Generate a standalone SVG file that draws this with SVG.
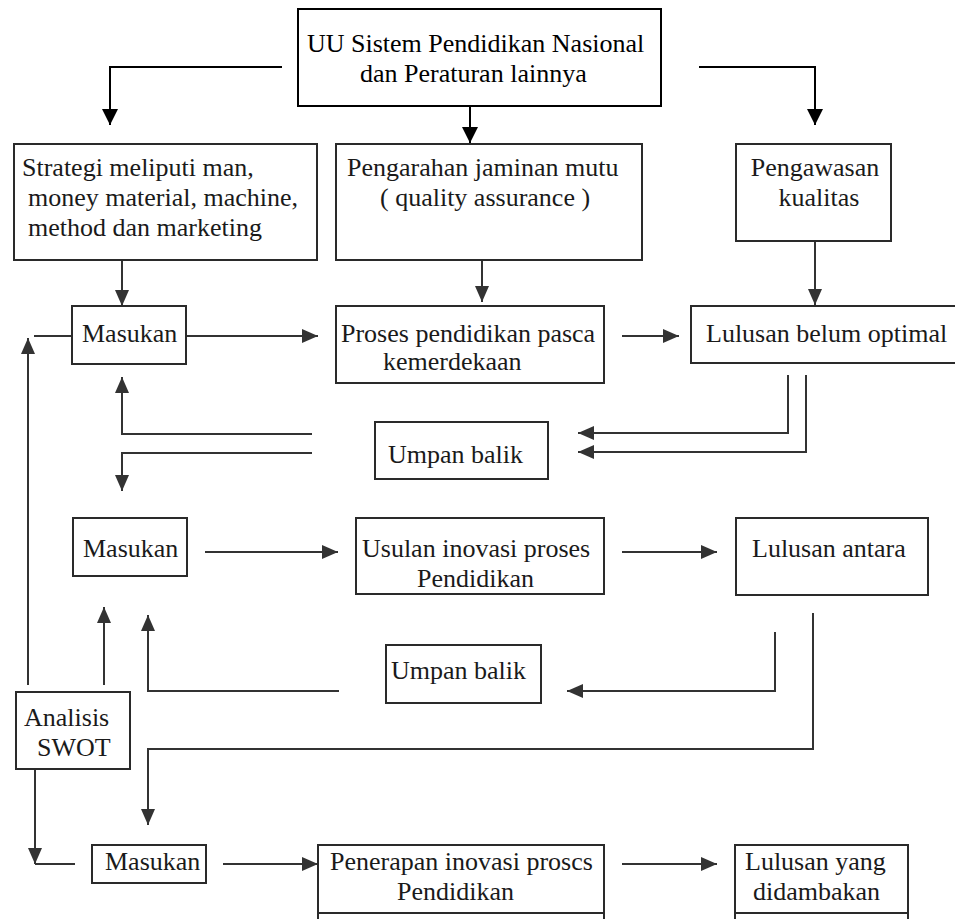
<svg xmlns="http://www.w3.org/2000/svg" width="955" height="919" viewBox="0 0 955 919">
<style>
.box{fill:none;stroke:#2a2a2a;stroke-width:2}
.top{stroke:#000}
.t{font-family:"Liberation Serif","Times New Roman",serif;font-size:26px;fill:#1a1a1a}
.tk{fill:#000}
.c{fill:none;stroke:#333;stroke-width:2}
.ck{stroke:#000}
.arr{marker-end:url(#ah)}
.arrk{marker-end:url(#ahk)}
</style>
<defs>
<marker id="ah" viewBox="0 0 16 14" markerWidth="16" markerHeight="14" refX="16" refY="7" orient="auto" markerUnits="userSpaceOnUse"><path d="M0,0 L16,7 L0,14 Z" fill="#333"/></marker>
<marker id="ahk" viewBox="0 0 16 16" markerWidth="16" markerHeight="16" refX="16" refY="8" orient="auto" markerUnits="userSpaceOnUse"><path d="M0,0 L16,8 L0,16 Z" fill="#000"/></marker>
</defs>
<rect x="0" y="0" width="955" height="919" fill="#fff"/>
<g id="connectors">
<path class="c ck arrk" d="M282,67 H110 V125"/>
<path class="c ck arrk" d="M470,106 V143"/>
<path class="c ck arrk" d="M699,67 H815 V125"/>
<path class="c arr" d="M122,260 V306"/>
<path class="c arr" d="M482,260 V302"/>
<path class="c arr" d="M815,241 V305"/>
<path class="c" d="M34,336 H72"/>
<path class="c arr" d="M28,685 V338"/>
<path class="c arr" d="M186,336 H318"/>
<path class="c arr" d="M622,336 H679"/>
<path class="c arr" d="M788,375 V433 H578"/>
<path class="c arr" d="M806,375 V452 H578"/>
<path class="c arr" d="M312,434 H122 V377"/>
<path class="c arr" d="M312,453 H122 V491"/>
<path class="c arr" d="M205,552 H338"/>
<path class="c arr" d="M622,552 H717"/>
<path class="c arr" d="M775,632 V691 H567"/>
<path class="c arr" d="M813,613 V749 H148 V825"/>
<path class="c arr" d="M339,691 H148 V615"/>
<path class="c arr" d="M104,685 V607"/>
<path class="c arr" d="M35,769 V864"/>
<path class="c" d="M35,864 H75"/>
<path class="c arr" d="M223,864 H318"/>
<path class="c arr" d="M622,864 H717"/>
</g>
<g id="uu">
<rect class="box top" x="298" y="9" width="363" height="97"/>
<text class="t tk" x="307" y="52">UU Sistem Pendidikan Nasional</text>
<text class="t tk" x="360" y="82">dan Peraturan lainnya</text>
</g>
<g id="strategi">
<rect class="box" x="14" y="144" width="303" height="116"/>
<text class="t" x="22" y="176">Strategi meliputi man,</text>
<text class="t" x="28" y="206">money material, machine,</text>
<text class="t" x="28" y="236">method dan marketing</text>
</g>
<g id="pengarahan">
<rect class="box" x="336" y="144" width="306" height="116"/>
<text class="t" x="347" y="176">Pengarahan jaminan mutu</text>
<text class="t" x="380" y="206">( quality assurance )</text>
</g>
<g id="pengawasan">
<rect class="box" x="736" y="144" width="155" height="97"/>
<text class="t" x="815" y="176" text-anchor="middle">Pengawasan</text>
<text class="t" x="819" y="206" text-anchor="middle">kualitas</text>
</g>
<g id="masukan1">
<rect class="box" x="72" y="306" width="114" height="58"/>
<text class="t" x="82" y="342">Masukan</text>
</g>
<g id="proses">
<rect class="box" x="336" y="306" width="268" height="77"/>
<text class="t" x="341" y="342">Proses pendidikan pasca</text>
<text class="t" x="383" y="370">kemerdekaan</text>
</g>
<g id="lulusan1">
<rect class="box" x="691" y="306" width="266" height="57"/>
<text class="t" x="706" y="342">Lulusan belum optimal</text>
</g>
<g id="umpan1">
<rect class="box" x="375" y="422" width="173" height="57"/>
<text class="t" x="388" y="463">Umpan balik</text>
</g>
<g id="masukan2">
<rect class="box" x="73" y="518" width="114" height="58"/>
<text class="t" x="83" y="557">Masukan</text>
</g>
<g id="usulan">
<rect class="box" x="356" y="518" width="248" height="76"/>
<text class="t" x="362" y="557">Usulan inovasi proses</text>
<text class="t" x="417" y="587">Pendidikan</text>
</g>
<g id="lulusan2">
<rect class="box" x="736" y="518" width="192" height="77"/>
<text class="t" x="752" y="557">Lulusan antara</text>
</g>
<g id="umpan2">
<rect class="box" x="386" y="645" width="155" height="58"/>
<text class="t" x="391" y="679">Umpan balik</text>
</g>
<g id="swot">
<rect class="box" x="16" y="692" width="114" height="77"/>
<text class="t" x="24" y="726">Analisis</text>
<text class="t" x="37" y="756">SWOT</text>
</g>
<g id="masukan3">
<rect class="box" x="92" y="845" width="114" height="38"/>
<text class="t" x="105" y="870">Masukan</text>
</g>
<g id="penerapan">
<rect class="box" x="318" y="845" width="286" height="68"/>
<rect class="box" x="318" y="913" width="286" height="22"/>
<text class="t" x="330" y="870">Penerapan inovasi proscs</text>
<text class="t" x="397" y="900">Pendidikan</text>
</g>
<g id="lulusan3">
<rect class="box" x="735" y="845" width="173" height="68"/>
<rect class="box" x="735" y="913" width="173" height="22"/>
<text class="t" x="745" y="870">Lulusan yang</text>
<text class="t" x="753" y="900">didambakan</text>
</g>
</svg>
